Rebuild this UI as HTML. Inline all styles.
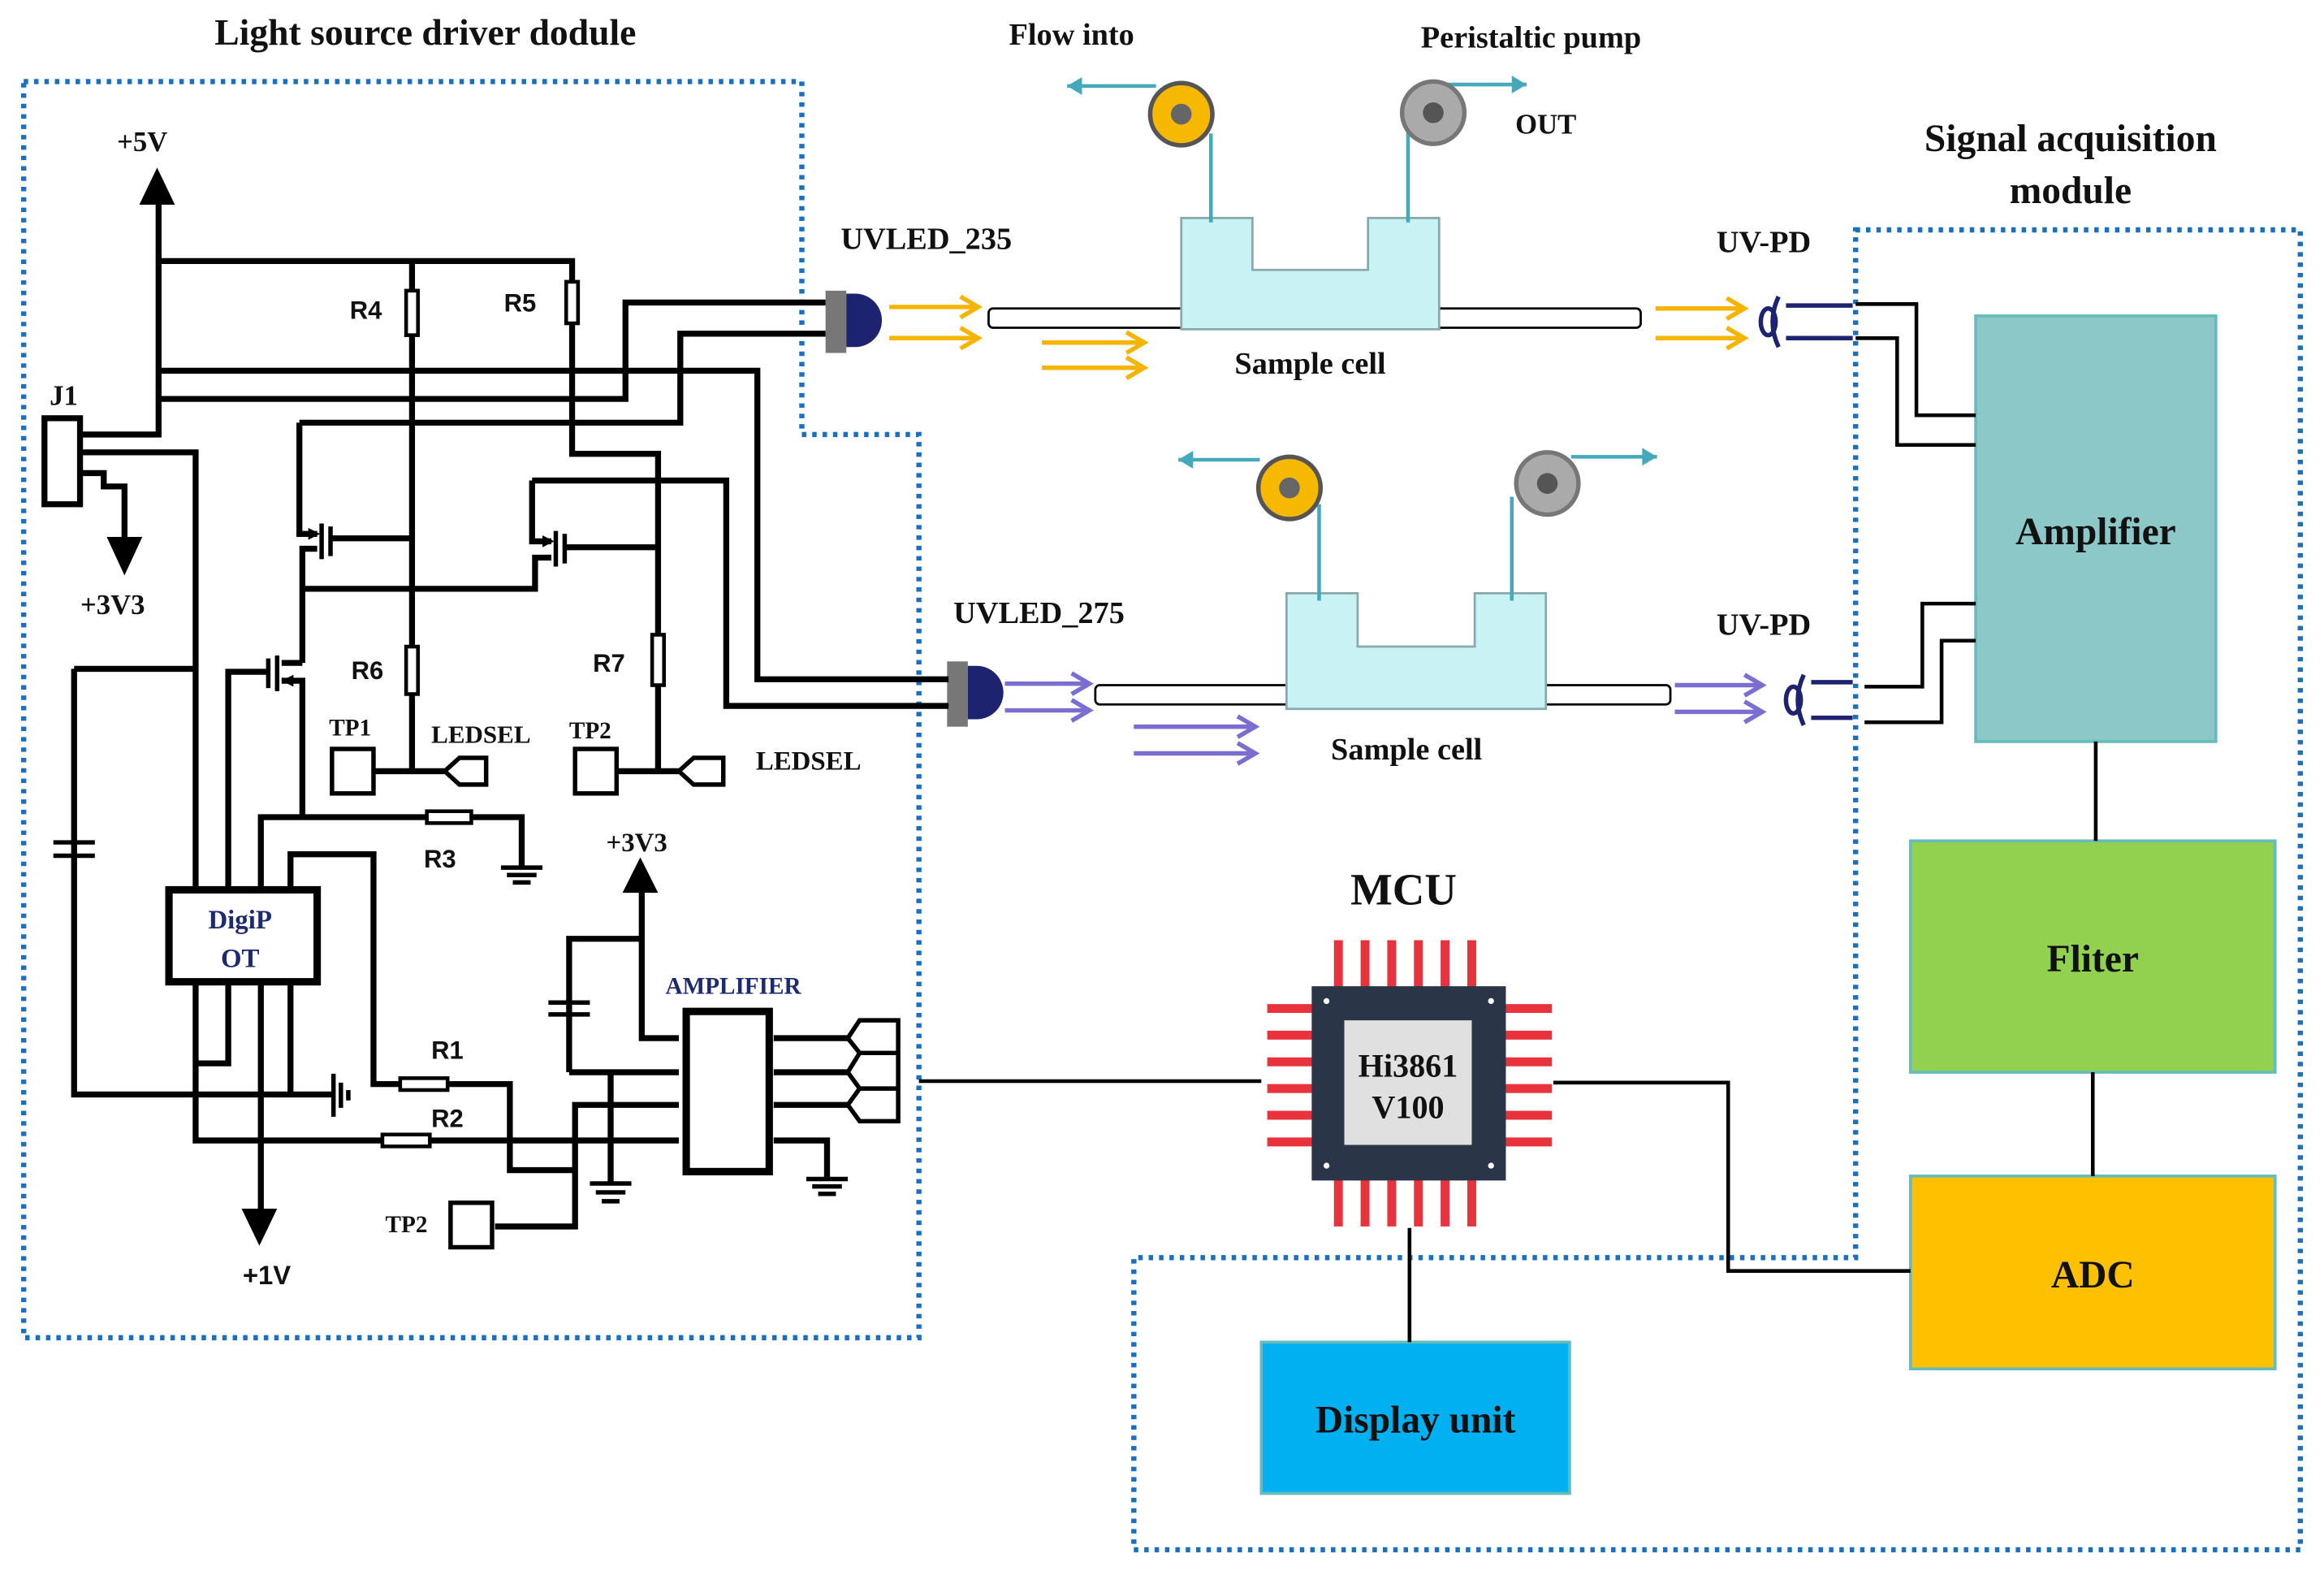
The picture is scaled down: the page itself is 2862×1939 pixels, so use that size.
<!DOCTYPE html>
<html><head><meta charset="utf-8"><style>
html,body{margin:0;padding:0;background:#fff}
svg{display:block}
text{font-family:"Liberation Serif",serif;font-weight:bold;fill:#111}
.s{font-family:"Liberation Sans",sans-serif}
</style></head><body>
<svg width="2862" height="1939" viewBox="0 0 1568 1062" preserveAspectRatio="none" xmlns="http://www.w3.org/2000/svg">
<!-- titles -->
<text x="287" y="30" font-size="25" text-anchor="middle">Light source driver dodule</text>
<text x="723" y="30" font-size="21" text-anchor="middle">Flow into</text>
<text x="1033" y="32" font-size="21" text-anchor="middle">Peristaltic pump</text>
<text x="1043" y="90" font-size="19" text-anchor="middle">OUT</text>
<text x="1397" y="102" font-size="26" text-anchor="middle">Signal acquisition</text>
<text x="1397" y="137" font-size="26" text-anchor="middle">module</text>

<!-- dotted boxes -->
<g fill="none" stroke="#1a6fbf" stroke-width="3.5" stroke-dasharray="3,4">
<path d="M16,55 H541 V293 H620 V902 H16 Z"/>
<path d="M1252,155 H1552 V1045 H765 V848 H1252 Z"/>
</g>

<!-- right module boxes -->
<rect x="1333" y="213" width="162" height="287" fill="#8cc8c8" stroke="#6bb" stroke-width="2"/>
<text x="1414" y="367" font-size="26" text-anchor="middle">Amplifier</text>
<rect x="1289" y="567" width="246" height="156" fill="#92d050" stroke="#6bb" stroke-width="2"/>
<text x="1412" y="655" font-size="26" text-anchor="middle">Fliter</text>
<rect x="1289" y="793" width="246" height="130" fill="#ffc000" stroke="#6bb" stroke-width="2"/>
<text x="1412" y="868" font-size="26" text-anchor="middle">ADC</text>
<rect x="851" y="905" width="208" height="102" fill="#00b0f0" stroke="#6bb" stroke-width="2"/>
<text x="955" y="966" font-size="26" text-anchor="middle">Display unit</text>

<g stroke="#000" stroke-width="2.5" fill="none">
<path d="M1414,500 V567 M1412,723 V793"/>
<path d="M1252,205 H1293 V280 H1333 M1252,228 H1280 V300 H1333"/>
<path d="M1258,463 H1297 V407 H1333 M1258,487 H1310 V432 H1333"/>
<path d="M620,729 H851 M1048,730 H1166 V857 H1289 M951,828 V905"/>
</g>

<!-- MCU -->
<text x="947" y="610" font-size="30" text-anchor="middle">MCU</text>
<g stroke="#e8323c" stroke-width="6">
<path d="M903,634v32 M921,634v32 M939,634v32 M957,634v32 M975,634v32 M993,634v32"/>
<path d="M903,795v32 M921,795v32 M939,795v32 M957,795v32 M975,795v32 M993,795v32"/>
<path d="M855,680h32 M855,698h32 M855,716h32 M855,734h32 M855,752h32 M855,770h32"/>
<path d="M1015,680h32 M1015,698h32 M1015,716h32 M1015,734h32 M1015,752h32 M1015,770h32"/>
</g>
<rect x="885" y="665" width="131" height="131" fill="#2b3548"/>
<g fill="#fff"><circle cx="895" cy="675" r="2"/><circle cx="1006" cy="675" r="2"/><circle cx="895" cy="786" r="2"/><circle cx="1006" cy="786" r="2"/></g>
<rect x="907" y="688" width="86" height="84" fill="#e0e0e0"/>
<text x="950" y="726" font-size="22" text-anchor="middle">Hi3861</text>
<text x="950" y="754" font-size="22" text-anchor="middle">V100</text>

<!-- Upper sample cell -->
<text x="625" y="168" font-size="21" text-anchor="middle">UVLED_235</text>
<text x="1190" y="170" font-size="21" text-anchor="middle">UV-PD</text>
<rect x="667" y="208" width="440" height="13" fill="#fff" stroke="#000" stroke-width="1.5" rx="3"/>
<path d="M797,147 H845 V182 H923 V147 H971 V222 H797 Z" fill="#c8f2f4" stroke="#8aa" stroke-width="1.5"/>
<text x="884" y="252" font-size="21" text-anchor="middle">Sample cell</text>
<g stroke="#4ab" stroke-width="2.5" fill="none">
<path d="M817,150 V90 M950,150 V80"/>
<path d="M780,58 H720 M970,57 H1030"/>
</g>
<path d="M720,58 l10,-6 v12z M1030,57 l-10,-6 v12z" fill="#4ab"/>
<circle cx="797" cy="77" r="21" fill="#f6b800" stroke="#555" stroke-width="3"/><circle cx="797" cy="77" r="7" fill="#666"/>
<circle cx="967" cy="76" r="21" fill="#aaa" stroke="#777" stroke-width="3"/><circle cx="967" cy="76" r="7" fill="#555"/>
<rect x="557" y="196" width="14" height="42" fill="#777"/>
<path d="M571,198 h6 a18,18 0 0 1 0,36 h-6z" fill="#1e2370"/>
<g stroke="#f4b400" stroke-width="3" fill="none">
<path d="M600,207 H658 M600,228 H658 M648,200 l12,7 -12,7 M648,221 l12,7 -12,7"/>
<path d="M703,231 H770 M703,248 H770 M760,224 l12,7 -12,7 M760,241 l12,7 -12,7"/>
<path d="M1117,208 H1175 M1117,228 H1175 M1165,201 l12,7 -12,7 M1165,221 l12,7 -12,7"/>
</g>
<g fill="none" stroke="#1e2370" stroke-width="3">
<ellipse cx="1193" cy="217" rx="5" ry="9"/><path d="M1200,200 q-8,17 0,34"/><path d="M1205,206 H1250 M1205,228 H1250"/>
</g>

<!-- Lower sample cell -->
<text x="701" y="420" font-size="21" text-anchor="middle">UVLED_275</text>
<text x="1190" y="428" font-size="21" text-anchor="middle">UV-PD</text>
<rect x="739" y="462" width="388" height="13" fill="#fff" stroke="#000" stroke-width="1.5" rx="3"/>
<path d="M868,400 H916 V436 H995 V400 H1043 V478 H868 Z" fill="#c8f2f4" stroke="#8aa" stroke-width="1.5"/>
<text x="949" y="512" font-size="21" text-anchor="middle">Sample cell</text>
<g stroke="#4ab" stroke-width="2.5" fill="none">
<path d="M890,405 V340 M1020,405 V335"/>
<path d="M850,310 H795 M1060,308 H1118"/>
</g>
<path d="M795,310 l10,-6 v12z M1118,308 l-10,-6 v12z" fill="#4ab"/>
<circle cx="870" cy="329" r="21" fill="#f6b800" stroke="#555" stroke-width="3"/><circle cx="870" cy="329" r="7" fill="#666"/>
<circle cx="1044" cy="326" r="21" fill="#aaa" stroke="#777" stroke-width="3"/><circle cx="1044" cy="326" r="7" fill="#555"/>
<rect x="639" y="446" width="14" height="44" fill="#777"/>
<path d="M653,449 h6 a18,18 0 0 1 0,36 h-6z" fill="#1e2370"/>
<g stroke="#7a6fd0" stroke-width="3" fill="none">
<path d="M678,461 H733 M678,479 H733 M723,454 l12,7 -12,7 M723,472 l12,7 -12,7"/>
<path d="M765,490 H845 M765,508 H845 M835,483 l12,7 -12,7 M835,501 l12,7 -12,7"/>
<path d="M1130,462 H1187 M1130,480 H1187 M1177,455 l12,7 -12,7 M1177,473 l12,7 -12,7"/>
</g>
<g fill="none" stroke="#1e2370" stroke-width="3">
<ellipse cx="1210" cy="472" rx="5" ry="9"/><path d="M1217,455 q-8,17 0,34"/><path d="M1222,460 H1250 M1222,484 H1250"/>
</g>

<!-- Left circuit labels -->
<text x="96" y="102" font-size="19" text-anchor="middle">+5V</text>
<text x="43" y="273" font-size="19" text-anchor="middle">J1</text>
<text x="76" y="414" font-size="19" text-anchor="middle">+3V3</text>
<text class="s" x="236" y="215" font-size="17">R4</text>
<text class="s" x="340" y="210" font-size="17">R5</text>
<text class="s" x="237" y="458" font-size="17">R6</text>
<text class="s" x="400" y="453" font-size="17">R7</text>
<text x="222" y="496" font-size="16">TP1</text>
<text x="291" y="501" font-size="17">LEDSEL</text>
<text x="384" y="498" font-size="16">TP2</text>
<text x="510" y="519" font-size="18">LEDSEL</text>
<text class="s" x="286" y="585" font-size="17">R3</text>
<text x="409" y="574" font-size="18">+3V3</text>
<text x="449" y="670" font-size="16" style="fill:#1e2a70">AMPLIFIER</text>
<text class="s" x="291" y="714" font-size="17">R1</text>
<text class="s" x="291" y="760" font-size="17">R2</text>
<text x="260" y="831" font-size="16">TP2</text>
<text class="s" x="180" y="866" font-size="18" text-anchor="middle">+1V</text>

<g stroke="#000" stroke-width="4" fill="none" stroke-linejoin="miter">
<path d="M107,135 V293 H54"/>
<path d="M107,176 H386 V306 H444 V520"/>
<path d="M278,176 V520"/>
<path d="M107,250 H511 V458 H640"/>
<path d="M107,269 H422 V204 H557"/>
<path d="M202,285 H459 V225 H557"/>
<path d="M359,324 H490 V476 H640"/>
<!-- MOSFET 1 -->
<path d="M202,285 V360 H214"/>
<path d="M214,370 H204 V447"/>
<path d="M223,363 H278"/>
<!-- MOSFET 2 -->
<path d="M359,324 V365 H372"/>
<path d="M372,376 H361 V397 H204"/>
<path d="M381,369 H444"/>
<!-- MOSFET 3 -->
<path d="M204,447 H190"/>
<path d="M190,459 H204 V551"/>
<path d="M181,453 H154 V600"/>
<!-- TP -->
<path d="M252,520 H300 M416,520 H458"/>
<!-- J1 -->
<path d="M54,305 H132 V600"/>
<path d="M54,319 H70 V328 H84 V362"/>
<path d="M50,451 H132 M50,451 V738 H226"/>
<!-- R3 -->
<path d="M176,600 V551 H352 V585"/>
<path d="M196,600 V576 H252 V731 H344 V789 H388"/>
<!-- bottom pins -->
<path d="M132,664 V769 H458 M154,664 V717 H132 M176,664 V820 M196,664 V738"/>
<!-- amp -->
<path d="M433,600 V700 H458 M384,723 V633 H433 M384,723 H458 M334,827 H388 V745 H458 M412,723 V798"/>
<path d="M522,700 H572 M522,723 H572 M522,745 H572 M522,769 H558 V795"/>
</g>
<!-- MOSFET bars -->
<g stroke="#000" stroke-width="3">
<path d="M217,353 V377 M223,355 V375 M375,358 V382 M381,360 V380 M187,442 V466 M181,444 V464"/>
</g>
<path d="M208,356 l8,4 -8,4z M366,361 l8,4 -8,4z M198,455 l-8,4 8,4z" fill="#000"/>

<rect x="114" y="600" width="100" height="62" fill="#fff" stroke="#000" stroke-width="5"/>
<text x="162" y="626" font-size="18" text-anchor="middle" style="fill:#1e2a70">DigiP</text>
<text x="162" y="652" font-size="18" text-anchor="middle" style="fill:#1e2a70">OT</text>
<rect x="463" y="682" width="56" height="108" fill="#fff" stroke="#000" stroke-width="5"/>
<rect x="30" y="282" width="24" height="58" fill="#fff" stroke="#000" stroke-width="4"/>
<!-- arrows -->
<path d="M94,138 L106,113 L118,138Z M72,362 L84,388 L96,362Z M420,602 L432,578 L444,602Z M163,815 L175,840 L187,815Z" fill="#000"/>
<!-- resistors -->
<g fill="#fff" stroke="#000" stroke-width="2.5">
<rect x="274" y="196" width="8" height="30"/><rect x="382" y="190" width="8" height="28"/>
<rect x="274" y="436" width="8" height="32"/><rect x="440" y="428" width="8" height="34"/>
<rect x="288" y="547" width="30" height="8"/><rect x="270" y="727" width="32" height="8"/><rect x="258" y="765" width="32" height="8"/>
</g>
<g fill="#fff" stroke="#000" stroke-width="3">
<rect x="224" y="505" width="28" height="30"/><rect x="388" y="505" width="28" height="30"/><rect x="304" y="811" width="28" height="30"/>
<path d="M300,520 l10,-9 h18 v18 h-18z M458,520 l10,-9 h20 v18 h-20z"/>
<path d="M572,700 l8,-12 h26 v22 h-26z M572,723 l8,-13 h26 v24 h-26z M572,745 l8,-11 h26 v22 h-26z"/>
</g>
<!-- capacitors, grounds -->
<g stroke="#000" stroke-width="3">
<path d="M36,568 H64 M36,577 H64 M370,676 H398 M370,684 H398"/>
<path d="M338,585 H366 M342,590 H362 M346,595 H358"/>
<path d="M398,798 H426 M402,804 H422 M406,810 H418"/>
<path d="M544,795 H572 M548,800 H568 M552,805 H564"/>
<path d="M225,724 V753 M230,730 V747 M235,735 V742"/>
</g>
</svg>
</body></html>
